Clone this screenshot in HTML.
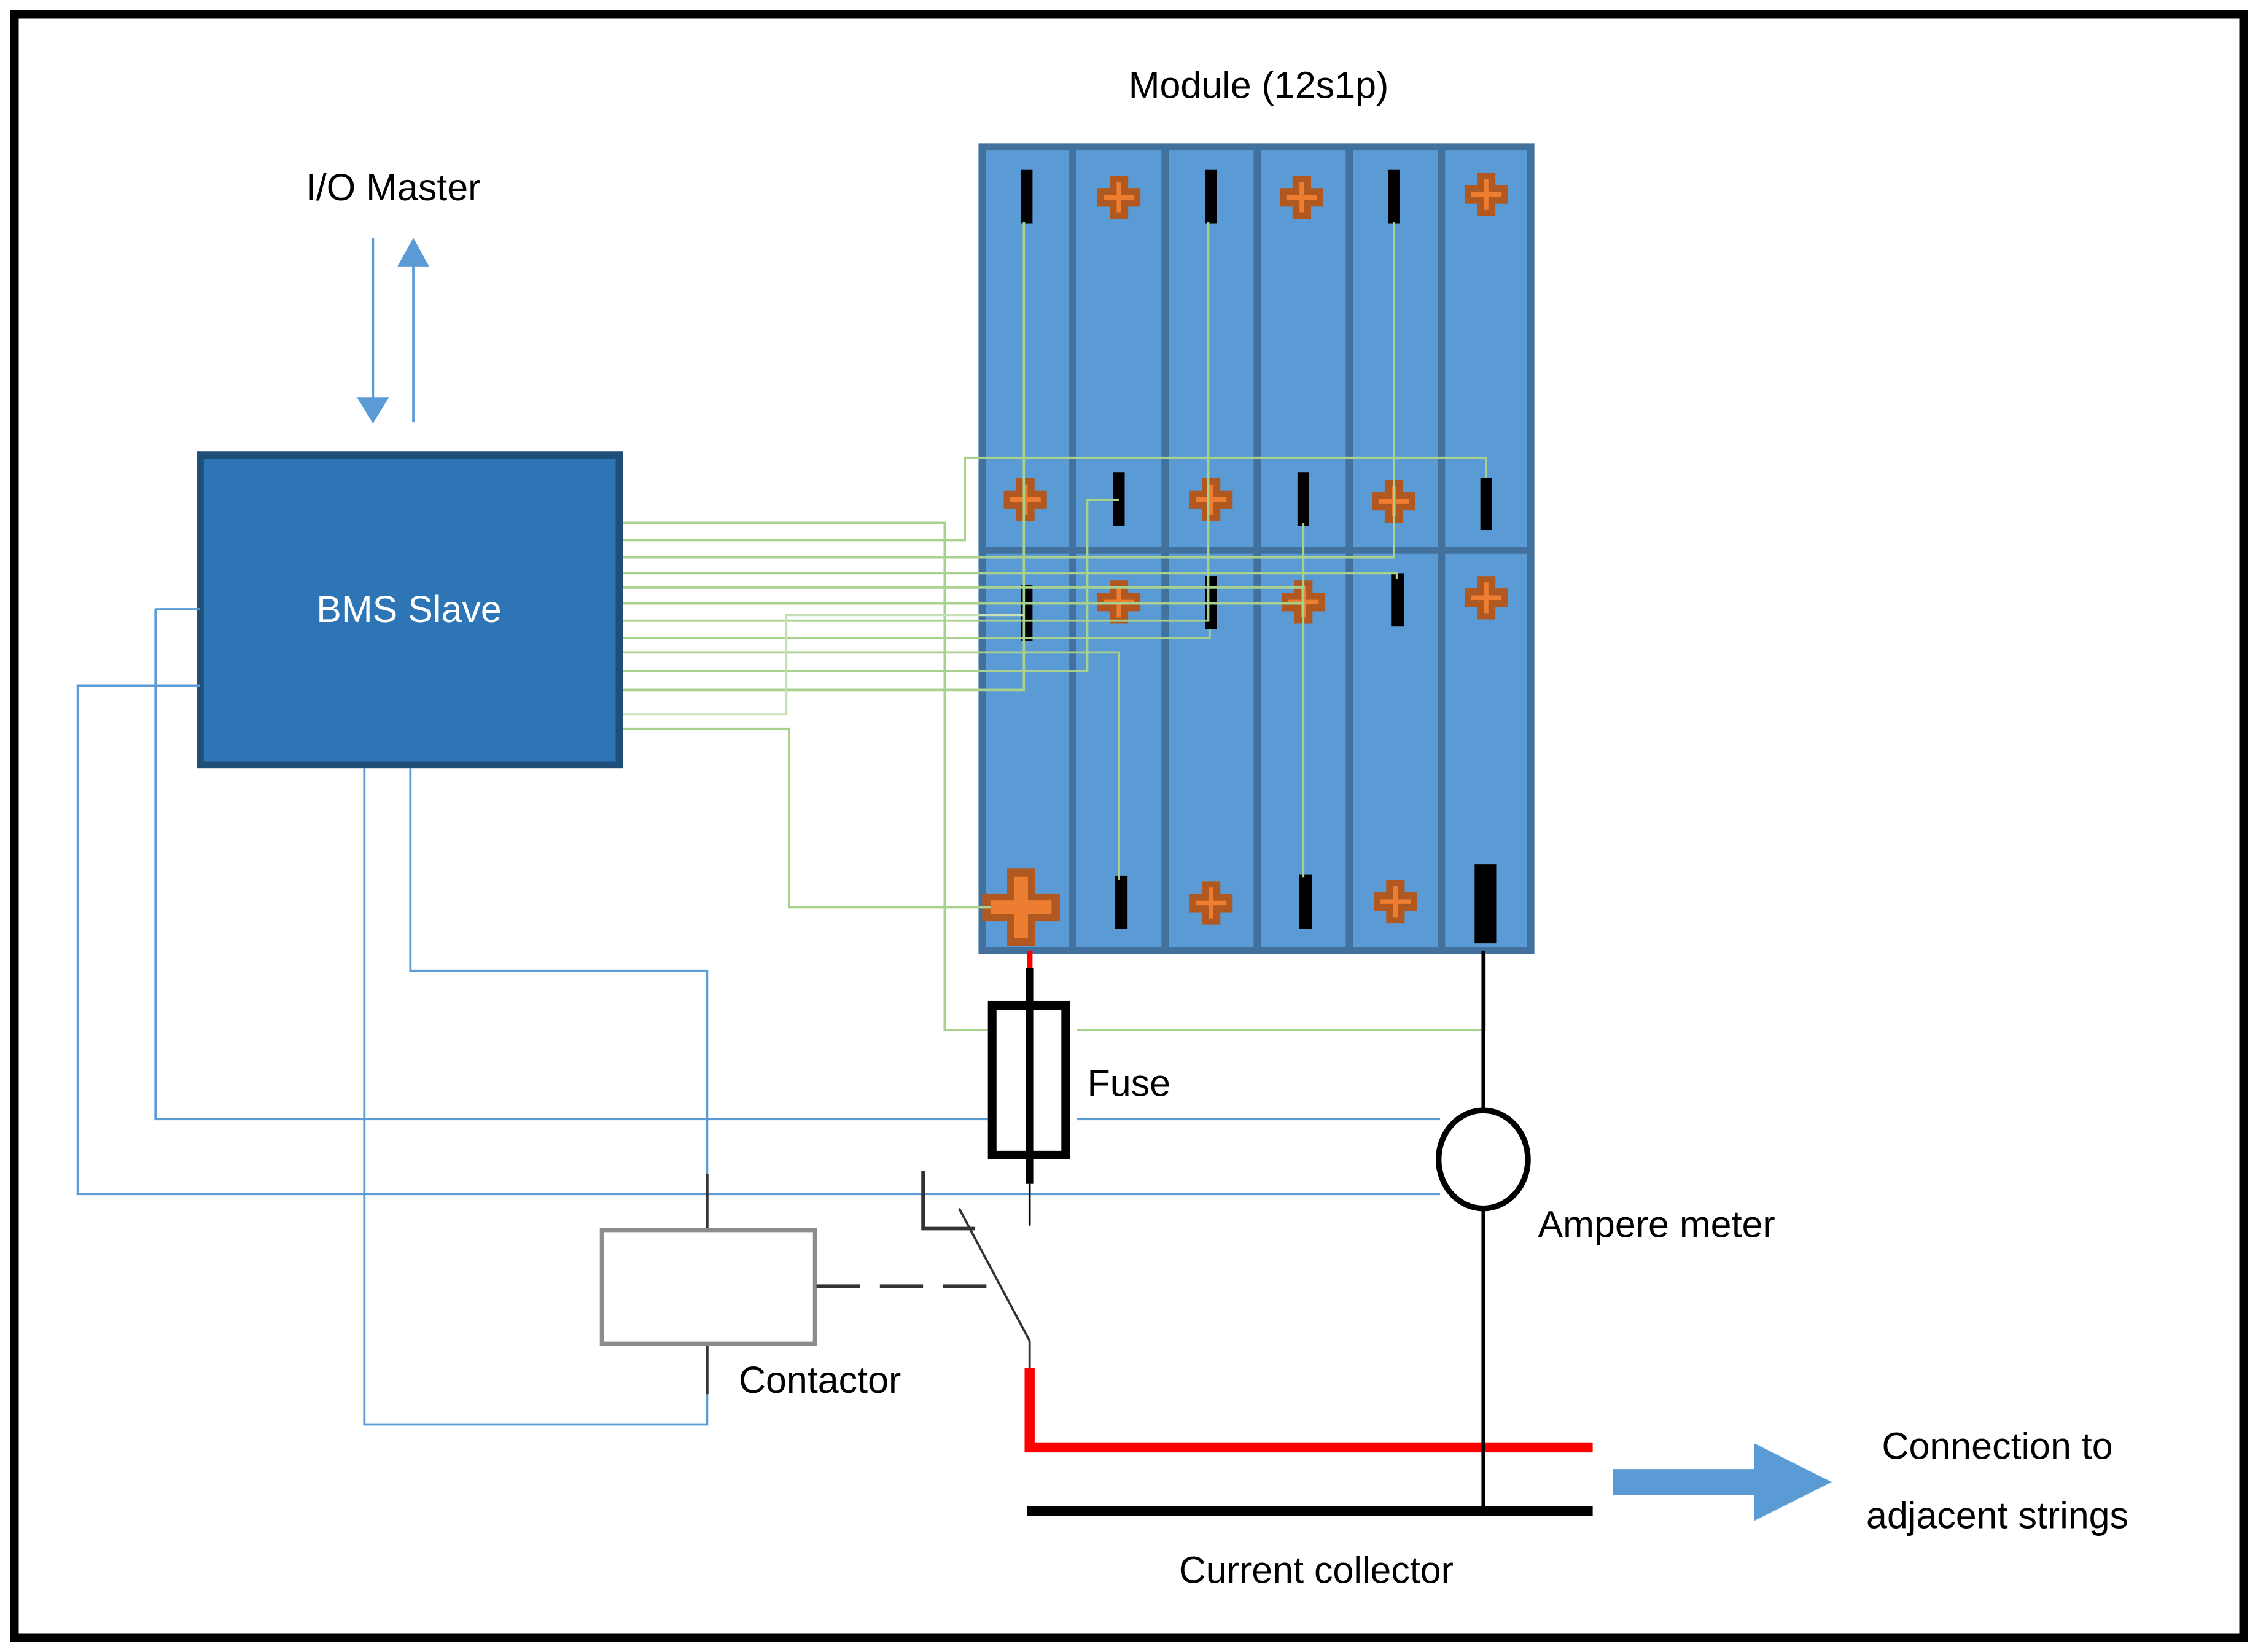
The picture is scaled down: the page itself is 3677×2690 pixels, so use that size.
<!DOCTYPE html>
<html><head><meta charset="utf-8"><style>html,body{margin:0;padding:0;background:#fff}svg{display:block}text{font-family:"Liberation Sans",Arial,sans-serif;font-size:26px;fill:#000}</style></head>
<body>
<svg width="3677" height="2690" viewBox="0 0 1568 1147" preserveAspectRatio="none" xmlns="http://www.w3.org/2000/svg">
<defs>
<symbol id="p" viewBox="-14 -14 28 28">
<rect x="-14" y="-6" width="28" height="12" fill="#b0581f"/><rect x="-6" y="-14" width="12" height="28" fill="#b0581f"/>
<rect x="-10" y="-1.5" width="20" height="3" fill="#ed7d31"/><rect x="-1.5" y="-10" width="3" height="20" fill="#ed7d31"/>
</symbol>
<symbol id="P" viewBox="-14 -14 28 28">
<rect x="-14" y="-5" width="28" height="10" fill="#b0581f"/><rect x="-5" y="-14" width="10" height="28" fill="#b0581f"/>
<rect x="-11" y="-2.5" width="22" height="5" fill="#ed7d31"/><rect x="-2.5" y="-11" width="5" height="22" fill="#ed7d31"/>
</symbol>
</defs>
<rect x="10" y="10" width="1548" height="1127" fill="none" stroke="#000" stroke-width="6"/>

<rect x="682" y="102" width="381" height="558" fill="#5b9bd5" stroke="#41719c" stroke-width="5"/>
<g stroke="#41719c" stroke-width="5">
<line x1="745" y1="102" x2="745" y2="660"/><line x1="809" y1="102" x2="809" y2="660"/><line x1="873" y1="102" x2="873" y2="660"/><line x1="937" y1="102" x2="937" y2="660"/><line x1="1001" y1="102" x2="1001" y2="660"/>
<line x1="682" y1="382" x2="1063" y2="382"/>
</g>
<g fill="#000">
<rect x="709" y="118" width="8" height="37"/><rect x="837" y="118" width="8" height="37"/><rect x="964" y="118" width="8" height="37"/>
<rect x="773" y="328" width="8" height="37"/><rect x="901" y="328" width="8" height="37"/><rect x="1028" y="332" width="8" height="36"/>
<rect x="709" y="406" width="8" height="39"/><rect x="837" y="400" width="8" height="37"/><rect x="966" y="398" width="9" height="37"/>
<rect x="774" y="608" width="9" height="37"/><rect x="902" y="607" width="9" height="38"/><rect x="1024" y="600" width="15" height="55"/>
</g>
<use href="#p" x="762" y="122" width="30" height="30"/><use href="#p" x="889" y="122" width="30" height="30"/><use href="#p" x="1017" y="120" width="30" height="30"/>
<use href="#p" x="697" y="332" width="30" height="30"/><use href="#p" x="826" y="332" width="30" height="30"/><use href="#p" x="953" y="333" width="30" height="30"/>
<use href="#p" x="762" y="403" width="30" height="30"/><use href="#p" x="890" y="403" width="30" height="30"/><use href="#p" x="1017" y="400" width="30" height="30"/>
<use href="#p" x="826" y="612" width="30" height="30"/><use href="#p" x="954" y="611" width="30" height="30"/>
<use href="#P" x="682" y="603" width="54" height="54"/>

<g fill="none" stroke="#a9d18e" stroke-width="1.6">
<polyline points="432,363 656,363 656,715 686,715"/>
<polyline points="748,715 1031,715 1031,662"/>
<polyline points="432,375 670,375 670,318 1032,318 1032,332"/>
<polyline points="432,387 968,387 968,154"/>
<polyline points="432,398 970,398 970,402"/>
<polyline points="432,408 906,408"/>
<polyline points="432,419 906,419"/>
<polyline points="905,363 905,609"/>
<polyline points="432,431 839,431 839,154"/>
<polyline points="432,443 840,443 840,437"/>
<polyline points="432,453 777,453 777,611"/>
<polyline points="432,466 755,466 755,347 777,347"/>
<polyline points="432,479 711,479 711,154"/>
<polyline points="432,496 546,496 546,427 711,427" stroke="#c5e0b4"/>
<polyline points="432,506 548,506 548,630 688,630"/>
</g>

<rect x="139" y="316" width="291" height="215" fill="#2e75b6" stroke="#1f4e79" stroke-width="5"/>
<text x="284" y="432" text-anchor="middle" style="fill:#fff">BMS Slave</text>

<g stroke="#5b9bd5" stroke-width="1.6" fill="none">
<line x1="259" y1="165" x2="259" y2="278"/><line x1="287" y1="182" x2="287" y2="293"/>
<polyline points="108,423 139,423"/><polyline points="108,423 108,777 686,777"/><line x1="748" y1="777" x2="1000" y2="777"/>
<polyline points="139,476 54,476 54,829 1000,829"/>
<polyline points="285,533 285,674 491,674 491,815"/>
<polyline points="253,533 253,989 491,989 491,968"/>
</g>
<polygon points="248,276 270,276 259,294" fill="#5b9bd5"/>
<polygon points="276,185 298,185 287,165" fill="#5b9bd5"/>
<text x="273" y="139" text-anchor="middle">I/O Master</text>
<text x="874" y="68" text-anchor="middle">Module (12s1p)</text>

<line x1="715" y1="660" x2="715" y2="672" stroke="#f00" stroke-width="4"/>
<line x1="715" y1="672" x2="715" y2="822" stroke="#000" stroke-width="5"/>
<line x1="715" y1="822" x2="715" y2="851" stroke="#000" stroke-width="1.5"/>
<rect x="689" y="698" width="51" height="104" fill="none" stroke="#000" stroke-width="6"/>
<text x="755" y="761">Fuse</text>

<line x1="491" y1="815" x2="491" y2="853" stroke="#333" stroke-width="2"/>
<line x1="491" y1="933" x2="491" y2="968" stroke="#333" stroke-width="2"/>
<rect x="418" y="854" width="148" height="79" fill="#fff" stroke="#8c8c8c" stroke-width="3"/>
<text x="513" y="967">Contactor</text>
<line x1="567" y1="893" x2="696" y2="893" stroke="#333" stroke-width="2.5" stroke-dasharray="30,14"/>
<polyline points="641,813 641,853 677,853" fill="none" stroke="#333" stroke-width="2.5"/>
<line x1="666" y1="839" x2="715" y2="931" stroke="#333" stroke-width="1.6"/>
<line x1="715" y1="931" x2="715" y2="950" stroke="#333" stroke-width="1.6"/>
<polyline points="715,950 715,1005 1106,1005" fill="none" stroke="#f00" stroke-width="7"/>

<line x1="1030" y1="660" x2="1030" y2="1049" stroke="#000" stroke-width="2.5"/>
<ellipse cx="1030" cy="805" rx="31" ry="34" fill="#fff" stroke="#000" stroke-width="4"/>
<line x1="713" y1="1049" x2="1106" y2="1049" stroke="#000" stroke-width="7"/>
<text x="1068" y="859">Ampere meter</text>
<text x="914" y="1099" text-anchor="middle">Current collector</text>

<polygon points="1120,1020 1218,1020 1218,1002 1272,1029 1218,1056 1218,1038 1120,1038" fill="#5b9bd5"/>
<text x="1387" y="1013" text-anchor="middle">Connection to</text>
<text x="1387" y="1061" text-anchor="middle">adjacent strings</text>
</svg>
</body></html>
